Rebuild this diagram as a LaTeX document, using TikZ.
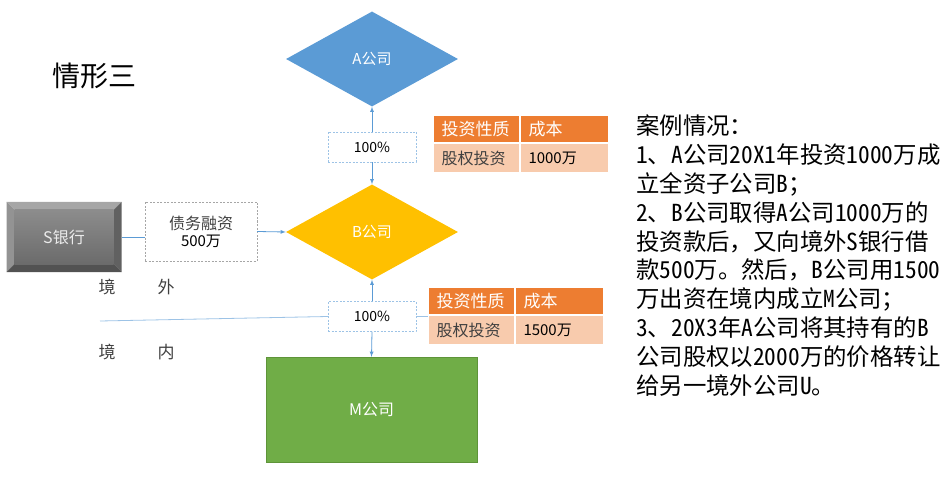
\documentclass[tikz,border=0pt]{standalone}
\usepackage{fontspec}
\setmainfont{Noto Sans CJK SC}
\newfontfamily\casefont[RawFeature=+hwid]{Noto Sans CJK SC}
\newfontfamily\fullfont{Noto Sans CJK SC}
\usetikzlibrary{shapes.geometric,arrows,positioning}
\newcommand{\fsz}[1]{\fontsize{#1}{#1}\selectfont}
\newcommand{\fw}[1]{{\fullfont #1}}
\definecolor{ablue}{HTML}{5B9BD5}
\definecolor{byellow}{HTML}{FFC000}
\definecolor{mgreen}{HTML}{70AD47}
\definecolor{mdark}{HTML}{5E9439}
\definecolor{thead}{HTML}{ED7D31}
\definecolor{tbody}{HTML}{F8CBAD}
\definecolor{lblue}{HTML}{9DC3E6}
\definecolor{txtgray}{HTML}{404040}

\begin{document}
\begin{tikzpicture}[x=1pt, y=-1pt,
    company/.style={diamond, inner sep=0pt, minimum width=172pt, minimum height=95pt, text=white, font=\fsz{15}},
    share/.style={draw=lblue, dashed, dash pattern=on 2pt off 1.5pt, fill=white, minimum width=88pt, minimum height=30pt, inner sep=0pt, font=\fsz{14}},
    arrow/.style={draw=ablue, line width=0.8pt, ->, >=latex},
    cell/.style={draw=white, line width=1pt, anchor=north west, inner xsep=8pt, inner ysep=0pt, text width=70pt, align=left, minimum height=27pt},
    headcell/.style={cell, fill=thead, text=white, font=\fsz{17}},
    bodycell/.style={cell, fill=tbody, text=txtgray, minimum height=29pt, font=\fsz{16}},
    bankbox/.style={minimum width=115pt, minimum height=70pt, inner sep=0pt, text=white!92!black, font=\fsz{16},
      path picture={
        \coordinate (nw) at (path picture bounding box.north west);
        \coordinate (ne) at (path picture bounding box.north east);
        \coordinate (sw) at (path picture bounding box.south west);
        \coordinate (se) at (path picture bounding box.south east);
        \fill[gray!70] (nw) -- (ne) -- ([shift={(-8,8)}]ne) -- ([shift={(8,8)}]nw) -- cycle;
        \fill[gray!85] (nw) -- (sw) -- ([shift={(8,-8)}]sw) -- ([shift={(8,8)}]nw) -- cycle;
        \fill[black!62] (ne) -- (se) -- ([shift={(-8,-8)}]se) -- ([shift={(-8,8)}]ne) -- cycle;
        \fill[black!68] (sw) -- (se) -- ([shift={(-8,-8)}]se) -- ([shift={(8,-8)}]sw) -- cycle;
        \shade[top color=black!45, bottom color=black!58] ([shift={(8,8)}]nw) rectangle ([shift={(-8,-8)}]se);
      }}]
  \useasboundingbox (0,0) rectangle (950,481);

  % title
  \node[font=\fsz{28}] (title) at (94,76) {情形三};

  % companies
  \node[company, fill=ablue] (A) at (372,59) {A公司};
  \node[company, fill=byellow] (B) at (372,232) {B公司};
  \node[draw=mdark, fill=mgreen, minimum width=211pt, minimum height=105pt, text=white, font=\fsz{16}] (M) at (371.5,409.5) {M公司};

  % holding boxes
  \node[share] (p1) at (372,147) {100\%};
  \node[share] (p2) at (372,316.5) {100\%};

  % bank and loan
  \node[bankbox] (bank) at (64,237) {S银行};
  \node[draw=gray!70, dashed, dash pattern=on 2pt off 1.5pt, minimum width=112pt, minimum height=59pt, align=center, text=txtgray, font=\fsz{16}, inner sep=0pt] (debt) at (201,231.5) {债务融资\\[1pt]{\color{black}\fsz{15}500万}};

  % arrows
  \draw[arrow] (p1.north) -- (A.south);
  \draw[arrow] (p1.south) -- (B.north);
  \draw[arrow] (p2.north) -- (B.south);
  \draw[arrow] (p2.south) -- (M.north);
  \draw[draw=ablue, line width=0.8pt] (bank.east) -- (bank.east -| debt.west);
  \draw[arrow] (debt.east) -- (B.west);

  % tables
  \node[headcell] (t1h1) at (433,115) {投资性质};
  \node[headcell, right=0pt of t1h1.north east, anchor=north west, text width=72pt] (t1h2) {成本};
  \node[bodycell, below=0pt of t1h1.south west, anchor=north west] (t1b1) {股权投资};
  \node[bodycell, below=0pt of t1h2.south west, anchor=north west, text width=72pt, text=black, font=\fsz{15}] (t1b2) {1000万};

  \node[headcell] (t2h1) at (428,287) {投资性质};
  \node[headcell, right=0pt of t2h1.north east, anchor=north west, text width=72pt] (t2h2) {成本};
  \node[bodycell, below=0pt of t2h1.south west, anchor=north west] (t2b1) {股权投资};
  \node[bodycell, below=0pt of t2h2.south west, anchor=north west, text width=72pt, text=black, font=\fsz{15}] (t2b2) {1500万};

  % border line
  \coordinate (edge) at (100,321);
  \draw[draw=lblue, line width=0.8pt] (edge) -- (p2.west);
  \draw[draw=lblue, line width=0.8pt] (p2.east) -- (p2.east -| t2h1.west);
  \node[text=txtgray, font=\fsz{17}] (out1) at (107,287) {境};
  \node[text=txtgray, font=\fsz{17}] (out2) at (166,287) {外};
  \node[text=txtgray, font=\fsz{17}] (in1) at (107,352) {境};
  \node[text=txtgray, font=\fsz{17}] (in2) at (166,352) {内};

  % case text
  \node[anchor=north west, inner sep=0pt, align=left, font=\casefont\fontsize{23.4}{28.8}\selectfont] (case) at (636,115) {案例情况：\\
    1、A公司20X1年投资1000万成\\
    立全资子公司B；\\
    2、B公司取得A公司1000万的\\
    投资款后\fw{，}又向境外S银行借\\
    款500万。然后\fw{，}B公司用1500\\
    万出资在境内成立M公司；\\
    3、20X3年A公司将其持有的B\\
    公司股权以2000万的价格转让\\
    给另一境外公司U。};
\end{tikzpicture}
\end{document}
